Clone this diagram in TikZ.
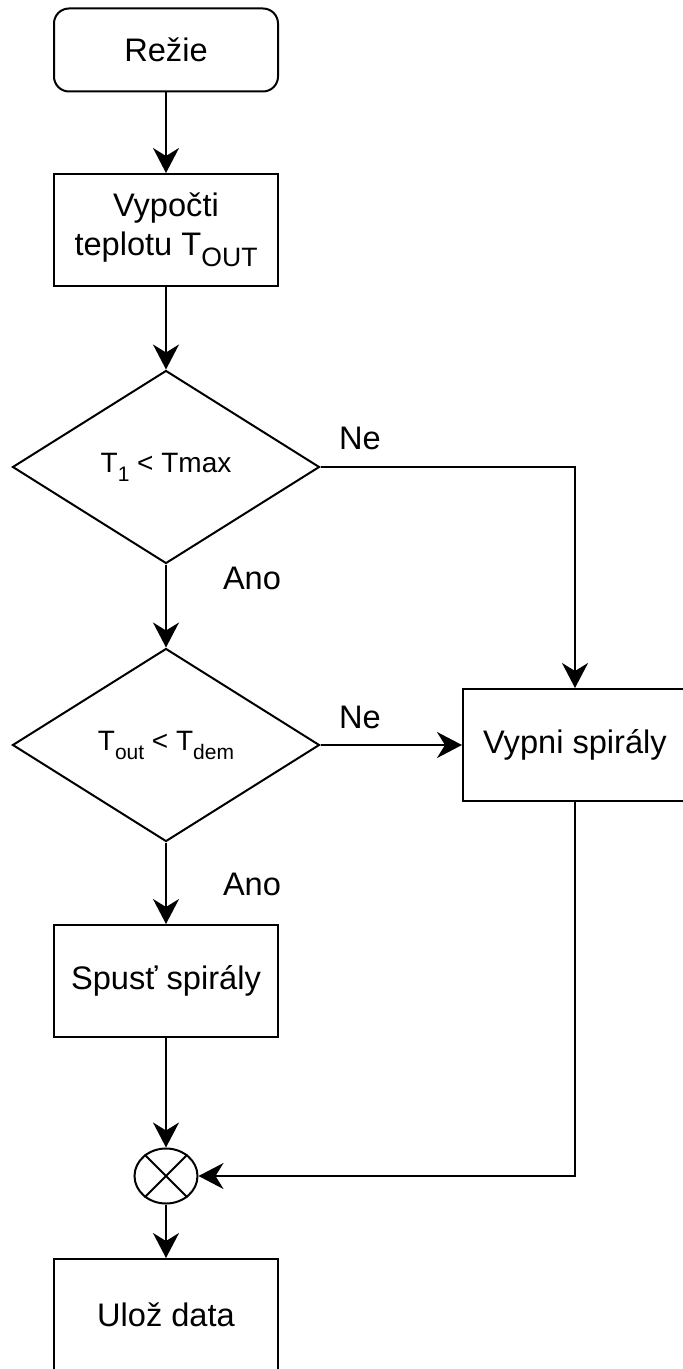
\documentclass[tikz,border=0pt]{standalone}
\usepackage{fontspec}
\setmainfont{Liberation Sans}
\usetikzlibrary{shapes.geometric,arrows.meta}
\newcommand{\subA}[1]{\raisebox{-5.5pt}{\fontsize{13.3}{14}\selectfont #1}}
\newcommand{\subB}[1]{\raisebox{-4.5pt}{\fontsize{10.5}{11}\selectfont #1}}
\tikzset{
  base/.style={draw, line width=1pt, inner sep=0pt, align=center,
    font=\fontsize{16.3}{19.5}\selectfont},
  box/.style={base, rectangle, minimum width=112pt, minimum height=56pt},
  startbox/.style={base, rectangle, rounded corners=7.5pt, minimum width=112pt, minimum height=41.5pt},
  decision/.style={base, diamond, minimum width=153.5pt, minimum height=96.5pt,
    font=\fontsize{14}{16}\selectfont},
  joinnode/.style={draw, line width=1pt, ellipse, minimum width=31.5pt, minimum height=27.5pt, inner sep=0pt},
  lbl/.style={font=\fontsize{16.3}{19.5}\selectfont, inner sep=0pt},
  conn/.style={line width=1pt, -{Stealth[length=12.5pt,width=13pt,inset=4pt]}},
  plain/.style={line width=1pt}
}
\begin{document}
\begin{tikzpicture}[x=0.5pt,y=-0.5pt]
\useasboundingbox (0,0) rectangle (682,1369);
\fill[white] (0,0) rectangle (682,1369);
\node[startbox] (rezie) at (166,50) {Režie};
\node[box] (vypocti) at (166,230) {Vypočti\\teplotu T\subA{OUT}};
\node[decision] (d1) at (166,467) {T\subB{1} < Tmax};
\node[decision] (d2) at (166,745) {T\subB{out} < T\subB{dem}};
\node[box] (vypni) at (575,745) {Vypni spirály};
\node[box] (spust) at (166,981) {Spusť spirály};
\node[joinnode] (join) at (166,1176) {};
\node[box] (uloz) at (166,1315) {Ulož data};
\draw[plain] (join.45) -- (join.225) (join.135) -- (join.315);
\node[lbl] (ne1) at (360,438) {Ne};
\node[lbl] (ano1) at (252,578) {Ano};
\node[lbl] (ne2) at (360,717) {Ne};
\node[lbl] (ano2) at (252,884) {Ano};
\draw[conn] (rezie.south) -- (vypocti.north);
\draw[conn] (vypocti.south) -- (d1.north);
\draw[conn] (d1.east) -| (vypni.north);
\draw[conn] (d1.south) -- (d2.north);
\draw[conn] (d2.east) -- (vypni.west);
\draw[conn] (d2.south) -- (spust.north);
\draw[conn] (spust.south) -- (join.north);
\draw[conn] (vypni.south) |- (join.east);
\draw[conn] (join.south) -- (uloz.north);
\end{tikzpicture}
\end{document}
